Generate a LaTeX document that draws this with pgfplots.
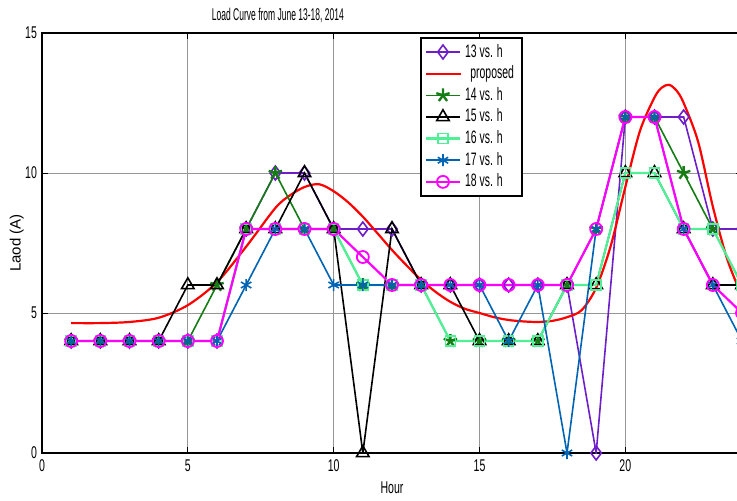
\documentclass[border=0pt]{standalone}
\usepackage{pgfplots}
\pgfplotsset{compat=1.18}
\usepackage{pgfplotstable}
\usepackage{fontspec}
\setmainfont{Liberation Sans}
\usepackage{graphicx}

\definecolor{c13}{RGB}{110,30,200}
\definecolor{c14}{RGB}{20,125,20}
\definecolor{c16}{RGB}{80,240,150}
\definecolor{c17}{RGB}{0,100,180}
\definecolor{c18}{RGB}{255,0,255}
\definecolor{gridc}{RGB}{150,150,150}

\newcommand{\nar}[1]{\scalebox{0.62}[1]{#1}}
\newcommand{\narl}[1]{\scalebox{0.58}[1]{#1}}

\pgfplotstableread{
h s13 s14 s15 s16 s17 s18
1 4 4 4 4 4 4
2 4 4 4 4 4 4
3 4 4 4 4 4 4
4 4 4 4 4 4 4
5 4 4 6 4 4 4
6 4 6 6 4 4 4
7 8 8 8 8 6 8
8 10 10 8 8 8 8
9 10 8 10 8 8 8
10 8 8 8 8 6 8
11 8 6 0 6 6 7
12 8 6 8 6 6 6
13 6 6 6 6 6 6
14 6 4 6 4 6 6
15 6 4 4 4 6 6
16 6 4 4 4 4 6
17 6 4 4 4 6 6
18 6 6 6 6 0 6
19 0 8 6 6 8 8
20 12 12 10 10 12 12
21 12 12 10 10 12 12
22 12 10 8 8 8 8
23 8 8 6 8 6 6
24 8 6 6 6 4 5
}\loaddata

\pgfplotstableread{
h p
1 4.64
2 4.64
3 4.68
4 4.83
5 5.28
6 6.1
7 7.37
8 8.75
8.5 9.2
9 9.5
9.5 9.6
10 9.35
10.5 8.95
11 8.44
11.5 7.85
12 7.25
12.5 6.7
13 6.18
13.5 5.75
14 5.4
14.5 5.15
15 5.0
15.5 4.85
16 4.75
16.5 4.7
17 4.68
17.5 4.72
18 4.85
18.5 5.1
19 5.9
19.5 7.4
20 9.5
20.5 11.5
21 12.7
21.25 13.05
21.5 13.15
21.75 12.95
22 12.5
22.5 11.1
23 8.8
23.5 6.9
24 5.6
}\propdata

\begin{document}
\begin{tikzpicture}
\begin{axis}[
  at={(0,0)}, anchor=south west,
  scale only axis,
  width=350pt, height=210pt,
  xmin=0, xmax=24, ymin=0, ymax=15,
  xtick={0,5,10,15,20}, ytick={0,5,10,15},
  tick align=inside,
  major tick length=3pt,
  grid=major,
  grid style={gridc, line width=0.5pt},
  axis line style={line width=0.9pt},
  tick style={black, line width=0.5pt},
  tick label style={font=\fontsize{8.5}{10}\selectfont},
  xticklabel={\nar{\pgfmathprintnumber[assume math mode=true]{\tick}}},
  yticklabel={\nar{\pgfmathprintnumber[assume math mode=true]{\tick}}},
  xticklabel style={yshift=0pt},
  yticklabel style={xshift=1pt},
  title={\scalebox{0.5}[1]{Load Curve from June 13-18, 2014}},
  every axis title shift=0pt,
  title style={font=\fontsize{8.5}{10}\selectfont, at={(0.337,1)}, anchor=center, yshift=9pt},
  xlabel={\nar{Hour}},
  xlabel style={font=\fontsize{8.5}{10}\selectfont, at={(0.5,0)}, anchor=center, yshift=-17.5pt},
  ylabel={Laod (A)},
  ylabel style={font=\fontsize{7.5}{9}\selectfont, at={(axis description cs:-0.036,0.5)}, anchor=center},
  legend style={at={(0.54,0.99)}, anchor=north west, draw=black, line width=0.8pt,
    font=\fontsize{9}{10}\selectfont, row sep=-1.2pt, inner xsep=2pt, inner ysep=1pt,
    cells={anchor=west}},
  legend cell align=left,
  every axis plot/.append style={line width=0.8pt},
]
\addplot[c13, mark=diamond, mark size=3.5pt, mark options={solid, line width=0.8pt}] table[x=h, y=s13] {\loaddata};
\addlegendentry{\narl{13 vs. h}}
\addplot[red, line width=1.1pt, smooth, no marks] table[x=h, y=p] {\propdata};
\addlegendentry{\narl{\hspace{0.5em}proposed}}
\addplot[c14, mark=star, mark size=3.5pt, mark options={line width=1.2pt}] table[x=h, y=s14] {\loaddata};
\addlegendentry{\narl{14 vs. h}}
\addplot[black, mark=triangle, mark size=3.6pt, mark options={line width=0.8pt}] table[x=h, y=s15] {\loaddata};
\addlegendentry{\narl{15 vs. h}}
\addplot[c16, line width=1.1pt, mark=square, mark size=2.5pt, mark options={line width=0.8pt}] table[x=h, y=s16] {\loaddata};
\addlegendentry{\narl{16 vs. h}}
\addplot[c17, mark=asterisk, mark size=3pt, mark options={line width=0.8pt}] table[x=h, y=s17] {\loaddata};
\addlegendentry{\narl{17 vs. h}}
\addplot[c18, line width=1.1pt, mark=o, mark size=3pt, mark options={line width=0.9pt}] table[x=h, y=s18] {\loaddata};
\addlegendentry{\narl{18 vs. h}}
\end{axis}
\pgfresetboundingbox
\path[use as bounding box] (-21pt,-23.5pt) rectangle (347.5pt,226.5pt);
\end{tikzpicture}
\end{document}
